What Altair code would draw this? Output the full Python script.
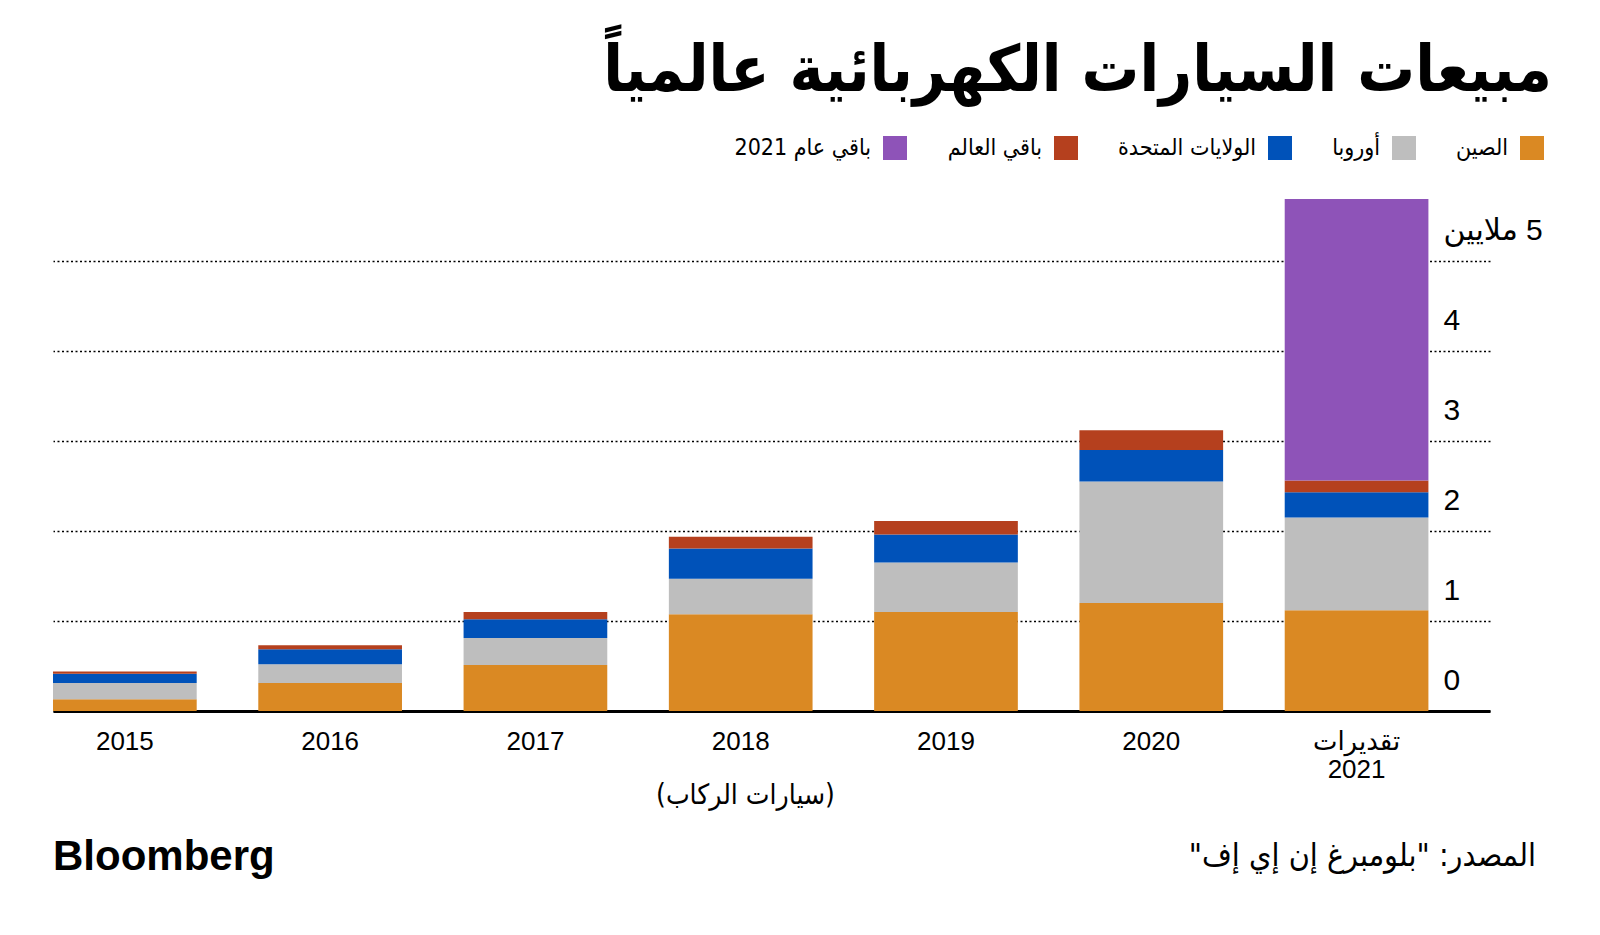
import altair as alt
import pandas as pd

years = ["2015", "2016", "2017", "2018", "2019", "2020", "2021"]
regions = ["الصين", "أوروبا", "الولايات المتحدة", "باقي العالم", "باقي عام 2021"]
colors = ["#DA8923", "#BEBEBE", "#0052B9", "#B5401E", "#8E53B8"]

china = [0.13, 0.31, 0.51, 1.075, 1.10, 1.20, 1.12]
europe = [0.18, 0.21, 0.30, 0.395, 0.55, 1.35, 1.03]
us = [0.105, 0.165, 0.21, 0.335, 0.31, 0.35, 0.28]
rest_world = [0.025, 0.045, 0.08, 0.13, 0.15, 0.22, 0.13]
rest_2021 = [0, 0, 0, 0, 0, 0, 3.13]

y_ticks = [0, 1, 2, 3, 4, 5]

title_text = "مبيعات السيارات الكهربائية عالمياً"
x_title = "(سيارات الركاب)"
source_text = "المصدر: \"بلومبرغ إن إي إف\"\u200f"
logo_text = "Bloomberg"

series = [china, europe, us, rest_world, rest_2021]
rows = []
for ri, (name, vals) in enumerate(zip(regions, series)):
    for yr, v in zip(years, vals):
        if v > 0:
            rows.append({"year": yr, "region": name, "value": v, "order": ri})
df = pd.DataFrame(rows)

ARABIC = "DejaVu Sans Condensed, DejaVu Sans"
LATIN = "Liberation Sans, DejaVu Sans"

bars = alt.Chart(df).mark_bar(strokeWidth=0).encode(
    x=alt.X(
        "year:N",
        sort=years,
        scale=alt.Scale(paddingInner=0.3, paddingOuter=0.15, align=0),
        axis=alt.Axis(
            title=x_title,
            titleFont=ARABIC,
            titleFontSize=28,
            titleFontWeight="normal",
            titleColor="black",
            titleX=692,
            titleY=84,
            titleAlign="center",
            titleBaseline="middle",
            labelAngle=0,
            labelFont=LATIN,
            labelFontSize=26,
            labelColor="black",
            labelPadding=17,
            labelLineHeight=28,
            labelExpr="datum.value == '2021' ? ['تقديرات', '2021'] : datum.label",
            ticks=False,
            domain=True,
            domainColor="black",
            domainWidth=3,
            grid=False,
        ),
    ),
    y=alt.Y(
        "value:Q",
        stack="zero",
        scale=alt.Scale(domain=[0, 5.7], nice=False),
        axis=alt.Axis(
            orient="right",
            title=None,
            values=y_ticks,
            labelExpr="datum.value == 5 ? '\u200f5 ملايين' : datum.label",
            labelFont=LATIN,
            labelFontSize=30,
            labelColor="black",
            labelAlign="left",
            labelBaseline="alphabetic",
            labelPadding=-47,
            labelOffset=-22,
            ticks=False,
            tickSize=0,
            domain=False,
            grid=True,
            gridColor="black",
            gridDash=[2, 2.5],
            gridWidth=1.5,
            gridOpacity=1,
        ),
    ),
    color=alt.Color(
        "region:N",
        scale=alt.Scale(domain=regions[::-1], range=colors[::-1]),
        legend=alt.Legend(
            title=None,
            orient="none",
            legendX=830,
            legendY=-62,
            direction="horizontal",
            columns=5,
            symbolType="square",
            symbolSize=576,
            symbolStrokeWidth=0,
            symbolOpacity=1,
            labelFont=ARABIC,
            labelFontSize=23,
            labelColor="black",
            labelAlign="right",
            labelOffset={"expr": "-36"},
            labelLimit=0,
            columnPadding=40,
        ),
    ),
    order=alt.Order("order:Q", sort="ascending"),
)

logo = alt.Chart(pd.DataFrame({"t": [logo_text]})).mark_text(
    align="left", baseline="middle", font=LATIN, fontWeight="bold", fontSize=42, color="black"
).encode(x=alt.value(0), y=alt.value(659), text="t:N")

source = alt.Chart(pd.DataFrame({"t": [source_text]})).mark_text(
    align="right", baseline="middle", font=ARABIC, fontSize=32, color="black"
).encode(x=alt.value(1483), y=alt.value(658), text="t:N")

chart = alt.layer(bars, logo, source).properties(
    width=1437,
    height=513,
    background="white",
    autosize=alt.AutoSizeParams(type="none"),
    padding={"left": 45, "top": 190, "right": 102, "bottom": 200},
    title=alt.TitleParams(
        text=title_text,
        anchor="end",
        font=ARABIC,
        fontSize=64,
        fontWeight="bold",
        color="black",
        dx=8,
        offset=32,
    ),
).configure_view(stroke=None)

chart.save("out.html", embed_options={"renderer": "svg", "actions": False})
